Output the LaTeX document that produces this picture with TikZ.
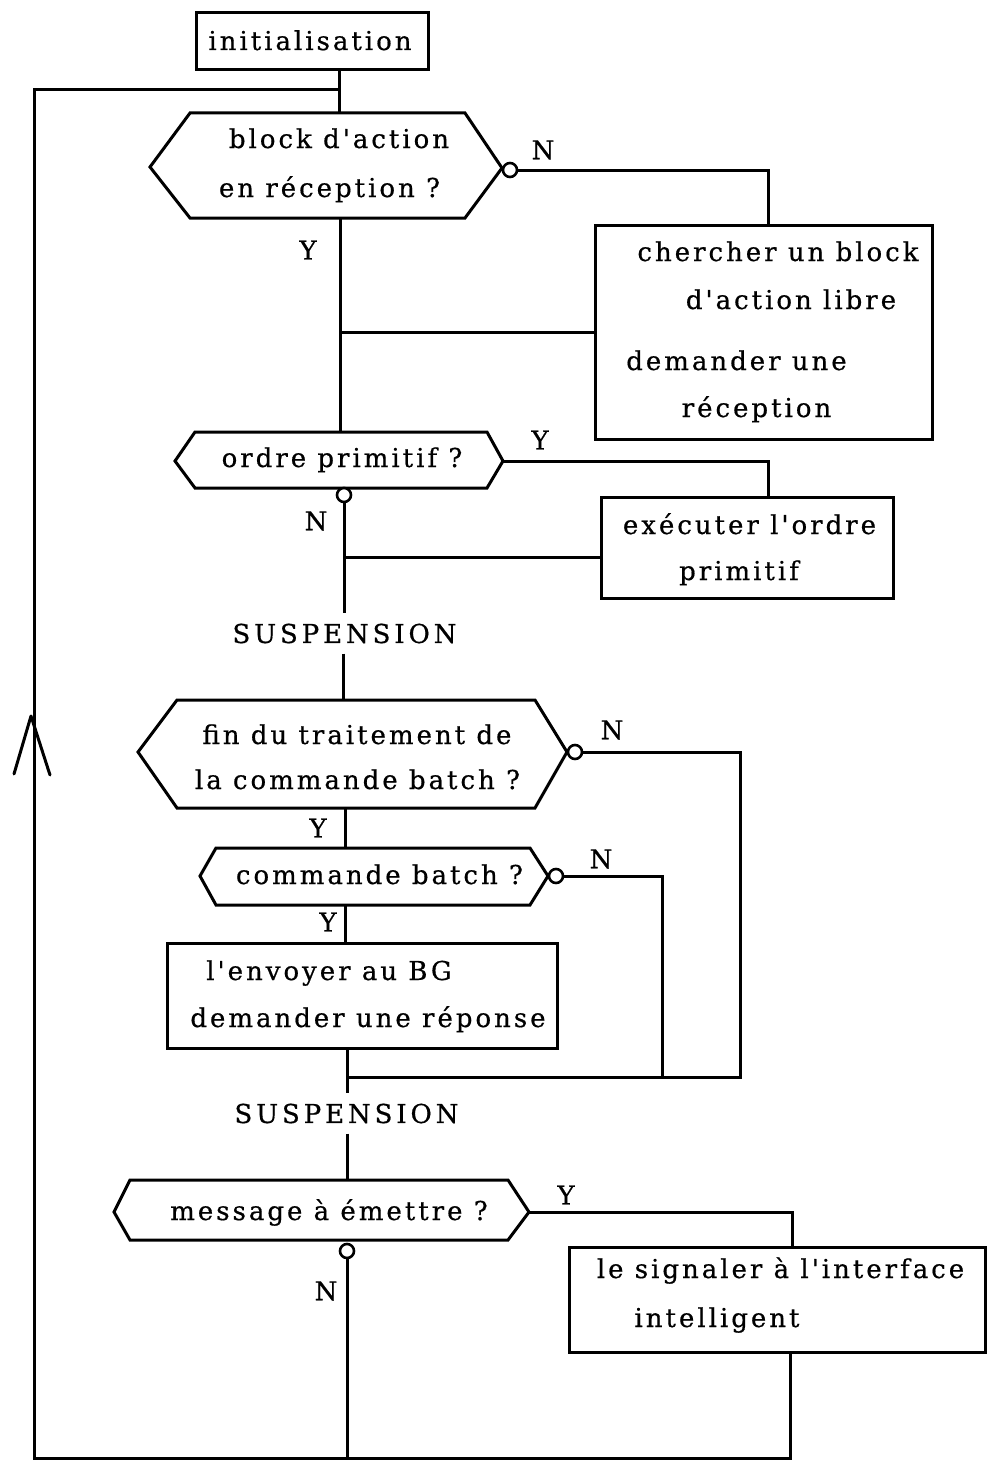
\documentclass[tikz,border=0pt]{standalone}
\usepackage{fontspec}
\newfontfamily\tw{DejaVu Serif}[LetterSpace=11.5,FakeBold=0.6]
\newfontfamily\twcaps{DejaVu Serif}[LetterSpace=15,FakeBold=0.6]
\begin{document}
\begin{tikzpicture}[x=1pt,y=-1pt,
  flow/.style={line width=3pt, line join=miter},
  box/.style={draw, rectangle, inner sep=0pt, line width=3pt},
  ring/.style={draw, circle, inner sep=0pt, minimum size=14pt, line width=2.6pt, fill=white},
  txt/.style={inner sep=0pt, anchor=base, font=\tw\fontsize{26}{32}\selectfont},
  lbl/.style={inner sep=0pt, font=\tw\fontsize{26}{32}\selectfont},
  susp/.style={inner sep=10pt, font=\twcaps\fontsize{26}{32}\selectfont}]
\useasboundingbox (0,0) rectangle (987,1461);

% ---------- process boxes ----------
\node[box, minimum width=232pt, minimum height=57pt]  (init)   at (312,41.5)    {};
\node[box, minimum width=337pt, minimum height=214pt] (search) at (763.5,332)   {};
\node[box, minimum width=292pt, minimum height=101pt] (exec)   at (747,547.5)   {};
\node[box, minimum width=390pt, minimum height=105pt] (send)   at (362,995.5)   {};
\node[box, minimum width=416pt, minimum height=105pt] (signal) at (777,1299.5)  {};

% ---------- decision hexagons ----------
\draw[flow] (150,167) -- (190,113) -- (465,113) -- (502,168) -- (465,218) -- (190,218) -- cycle;
\draw[flow] (175,461) -- (195,432) -- (487,432) -- (503,461) -- (487,488) -- (195,488) -- cycle;
\draw[flow] (138,752) -- (177,700) -- (535,700) -- (567,752) -- (535,808) -- (177,808) -- cycle;
\draw[flow] (200,876) -- (216,848) -- (530,848) -- (548,876) -- (530,905) -- (216,905) -- cycle;
\draw[flow] (114,1212) -- (130,1180) -- (508,1180) -- (529,1212) -- (508,1240) -- (130,1240) -- cycle;

% attachment points on the hexagons
\coordinate (h1t) at (339,113);  \coordinate (h1b) at (340,218);
\coordinate (h2t) at (340,432);  \coordinate (h2r) at (503,461);
\coordinate (h3t) at (343,700);  \coordinate (h3b) at (345,808);
\coordinate (h4t) at (345,848);  \coordinate (h4b) at (345,905);
\coordinate (h5t) at (347,1180); \coordinate (h5r) at (529,1212);

% routing corners and junctions
\coordinate (j0) at (339,90);
\coordinate (ltl) at (34,90);
\coordinate (lbl) at (34,1458);
\coordinate (j9) at (347,1458);
\coordinate (k1) at (768,170);
\coordinate (k2) at (768,461);
\coordinate (jx2) at (344,557);
\coordinate (k3) at (740,752);
\coordinate (k4) at (662,876);
\coordinate (j8) at (347,1077);
\coordinate (k5) at (792,1212);
\coordinate (k6) at (790,1458);
\coordinate (arr) at (31,716);

% ---------- texts ----------
\node[txt] (t0)  at (310,50)    {initialisation};
\node[txt] (t1a) at (339,148)   {block d'action};
\node[txt] (t1b) at (329.5,197) {en réception ?};
\node[txt] (s1)  at (778,261)   {chercher un block};
\node[txt] (s2)  at (791,309)   {d'action libre};
\node[txt] (s3)  at (736.5,370) {demander une};
\node[txt] (s4)  at (756.5,417) {réception};
\node[txt] (t2)  at (342,467)   {ordre primitif ?};
\node[txt] (e1)  at (749.5,534) {exécuter l'ordre};
\node[txt] (e2)  at (739,580)   {primitif};
\node[susp] (susp1) at (344.5,633.5) {SUSPENSION};
\node[txt] (t3a) at (357,744)   {fin du traitement de};
\node[txt] (t3b) at (357.5,789) {la commande batch ?};
\node[txt] (t4)  at (379.5,884) {commande batch ?};
\node[txt] (d1)  at (329,980)   {l'envoyer au BG};
\node[txt] (d2)  at (368,1027)  {demander une réponse};
\node[susp] (susp2) at (346.5,1113.5) {SUSPENSION};
\node[txt] (t5)  at (329,1220)  {message à émettre ?};
\node[txt] (g1)  at (780.5,1278) {le signaler à l'interface};
\node[txt] (g2)  at (717,1327)  {intelligent};

% branch labels
\node[lbl] (n1) at (543,150)  {N};
\node[lbl] (y1) at (308,250)  {Y};
\node[lbl] (y2) at (540,440)  {Y};
\node[lbl] (n2) at (316,521)  {N};
\node[lbl] (n3) at (612,730)  {N};
\node[lbl] (y3) at (318,828)  {Y};
\node[lbl] (n4) at (601,859)  {N};
\node[lbl] (y4) at (328,922)  {Y};
\node[lbl] (y5) at (566,1195) {Y};
\node[lbl] (n5) at (326,1291) {N};

% ---------- connectors ----------
% main line
\draw[flow] (init.south -| j0) -- (h1t);
\draw[flow] (h1b) -- (h2t);
\draw[flow] (search.west) -- (search.west -| h1b);
\node[ring] (h2o) at (344,495) {};
\draw[flow] (h2o.south) -- (h2o.south |- susp1.north);
\draw[flow] (jx2) -- (jx2 -| exec.west);
\draw[flow] (susp1.south -| h3t) -- (h3t);
\draw[flow] (h3b) -- (h4t);
\draw[flow] (h4b) -- (h4b |- send.north);
\draw[flow] (send.south -| j8) -- (j8) -- (j8 |- susp2.north);
\draw[flow] (susp2.south -| h5t) -- (h5t);

% "no" branch of the first test
\node[ring] (h1o) at (510,170) {};
\draw[flow] (h1o.east) -- (k1) -- (k1 |- search.north);
% "yes" branch of the primitive order test
\draw[flow] (h2r) -- (k2) -- (k2 |- exec.north);
% "no" branches rejoining below the batch box
\node[ring] (h3o) at (575,752) {};
\draw[flow] (h3o.east) -- (k3) -- (k3 |- j8) -- (j8);
\node[ring] (h4o) at (556,876) {};
\draw[flow] (h4o.east) -- (k4) -- (k4 |- j8);
% message test
\draw[flow] (h5r) -- (k5) -- (k5 |- signal.north);
\node[ring] (h5o) at (347,1251) {};
\draw[flow] (signal.south -| k6) -- (k6) -- (j9);
% return loop
\draw[flow] (h5o.south) -- (j9) -- (lbl) -- (ltl) -- (j0);
\draw[line width=3pt, line cap=round, line join=round] (arr) ++(-17,58) -- (arr) -- ++(19,59);
\end{tikzpicture}
\end{document}
